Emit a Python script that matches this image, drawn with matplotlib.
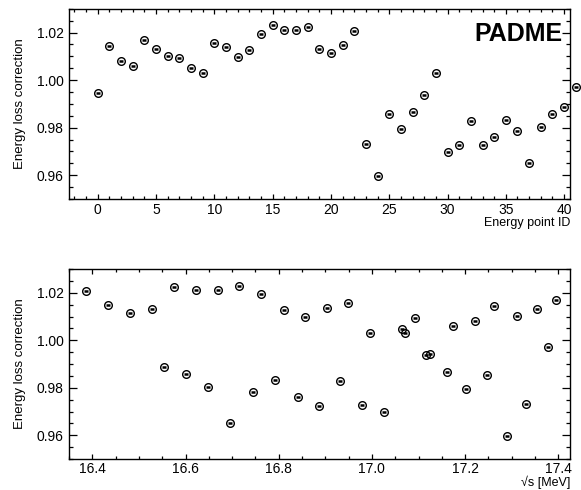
import numpy as np
import matplotlib
matplotlib.use("Agg")
import matplotlib.pyplot as plt
from matplotlib.ticker import MultipleLocator, FormatStrFormatter

plt.rcParams['font.family'] = ['Liberation Sans', 'DejaVu Sans']

# energy point ID, sqrt(s) in MeV and energy loss correction
point_id = np.arange(42)
sqrt_s = [17.125, 17.262, 17.221, 17.175, 17.396, 17.354, 17.312, 17.093,
          17.064, 16.995, 16.949, 16.904, 16.857, 16.811, 16.762, 16.715,
          16.669, 16.622, 16.576, 16.528, 16.481, 16.433, 16.3865, 17.331,
          17.290, 17.246, 17.201, 17.161, 17.117, 17.071, 17.026, 16.979,
          16.932, 16.886, 16.841, 16.792, 16.745, 16.695, 16.649, 16.601,
          16.554, 17.377]
correction = [0.9944, 1.0144, 1.0082, 1.0059, 1.0168, 1.0130, 1.0101, 1.0094,
              1.0049, 1.0032, 1.0158, 1.0138, 1.0096, 1.0126, 1.0196, 1.0230,
              1.0210, 1.0210, 1.0223, 1.0130, 1.0116, 1.0148, 1.0207, 0.9731,
              0.9597, 0.9856, 0.9793, 0.9866, 0.9937, 1.0030, 0.9697, 0.9729,
              0.9827, 0.9725, 0.9760, 0.9831, 0.9784, 0.9652, 0.9803, 0.9858,
              0.9886, 0.9973]

fig = plt.figure(figsize=(5.81, 4.90), dpi=100)
ax1 = fig.add_axes([0.118, 0.594, 0.863, 0.388])
ax2 = fig.add_axes([0.118, 0.063, 0.863, 0.388])


def draw_points(ax, x, y):
    ax.plot(x, y, linestyle='none', marker='o', markersize=5.5,
            markerfacecolor='none', markeredgecolor='black',
            markeredgewidth=1.0, clip_on=False)
    ax.plot(x, y, linestyle='none', marker='_', markersize=3,
            markeredgewidth=1.8, color='black', clip_on=False)


def style_axis(ax, xmajor, xminor):
    ax.set_ylim(0.95, 1.03)
    ax.yaxis.set_major_locator(MultipleLocator(0.02))
    ax.yaxis.set_minor_locator(MultipleLocator(0.005))
    ax.yaxis.set_major_formatter(FormatStrFormatter('%.2f'))
    ax.xaxis.set_major_locator(MultipleLocator(xmajor))
    ax.xaxis.set_minor_locator(MultipleLocator(xminor))
    ax.tick_params(axis='both', which='both', direction='in',
                   top=True, right=True, labelsize=10, width=0.9)
    ax.tick_params(axis='y', which='major', length=5.5)
    ax.tick_params(axis='y', which='minor', length=2.8)
    ax.tick_params(axis='x', which='major', length=3.8, pad=3)
    ax.tick_params(axis='x', which='minor', length=1.9)
    for sp in ax.spines.values():
        sp.set_linewidth(1.0)
    ax.set_ylabel('Energy loss correction', fontsize=9.5, labelpad=8)


# top: correction vs point ID
draw_points(ax1, point_id, correction)
ax1.set_xlim(-2.5, 40.5)
style_axis(ax1, 5, 1)
ax1.set_xlabel('Energy point ID', fontsize=9, loc='right', labelpad=0)
ax1.text(0.985, 0.87, 'PADME', transform=ax1.transAxes, ha='right',
         va='center', fontsize=18, fontweight='bold')

# bottom: correction vs sqrt(s)
draw_points(ax2, sqrt_s, correction)
ax2.set_xlim(16.349, 17.425)
style_axis(ax2, 0.2, 0.05)
ax2.tick_params(axis='x', which='major', pad=2)
fig.text(0.981, 0.003, '√s [MeV]', ha='right', va='bottom', fontsize=9)

fig.savefig('out.png', dpi=100)
